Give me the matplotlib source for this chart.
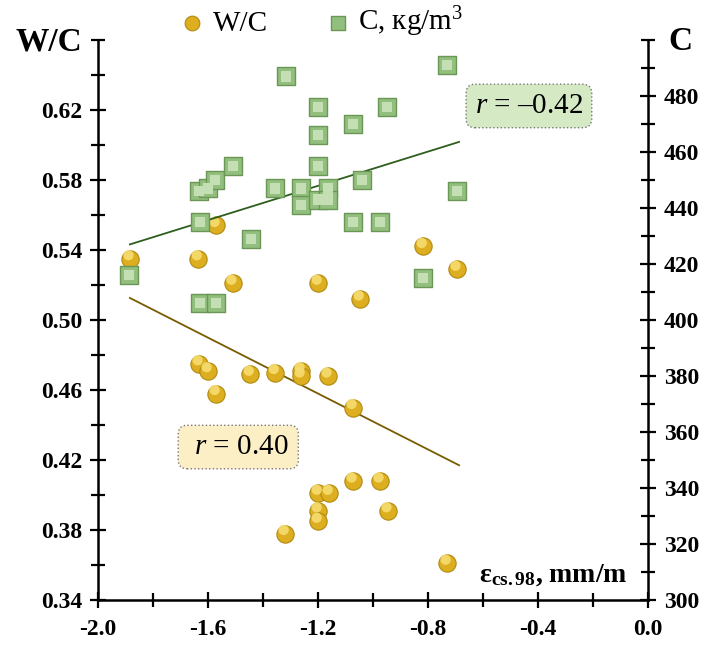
import matplotlib
matplotlib.use("Agg")
import matplotlib.pyplot as plt
from matplotlib.ticker import MultipleLocator, FormatStrFormatter
import numpy as np

plt.rcParams['font.family'] = ['Liberation Serif', 'DejaVu Serif']
plt.rcParams['mathtext.fontset'] = 'custom'
plt.rcParams['mathtext.rm'] = 'Liberation Serif'
plt.rcParams['mathtext.it'] = 'Liberation Serif:italic'
plt.rcParams['mathtext.bf'] = 'Liberation Serif:bold'

# W/C data (left axis)
wc_x = [-1.884, -1.636, -1.571, -1.510, -1.200, -1.047, -0.818, -0.695,
        -1.633, -1.600, -1.571, -1.447, -1.356, -1.262, -1.262, -1.164,
        -1.073, -1.200, -1.160, -1.200, -1.200, -1.320, -1.073, -0.975,
        -0.946, -0.731]
wc_y = [0.535, 0.535, 0.554, 0.521, 0.521, 0.512, 0.542, 0.529,
        0.475, 0.471, 0.458, 0.469, 0.470, 0.471, 0.468, 0.468,
        0.450, 0.401, 0.401, 0.391, 0.385, 0.378, 0.408, 0.408,
        0.391, 0.361]

# C data (right axis)
c_x = [-1.887, -1.629, -1.571, -1.629, -1.633, -1.600, -1.575, -1.510,
       -1.444, -1.316, -1.356, -1.262, -1.262, -1.200, -1.200, -1.200,
       -1.200, -1.164, -1.164, -1.073, -1.073, -1.040, -0.949, -0.731,
       -0.695, -0.975, -0.818]
c_y = [416, 406, 406, 435, 446, 447, 450, 455,
       429, 487, 447, 447, 441, 476, 466, 455,
       443, 447, 443, 470, 435, 450, 476, 491,
       446, 435, 415]

# trend lines (end points)
trend_x = [-1.884, -0.687]
trend_wc = [0.5126, 0.417]
trend_c = [427.0, 463.6]

x_ticks = [-2.0, -1.6, -1.2, -0.8, -0.4, 0.0]
wc_ticks = [0.34, 0.38, 0.42, 0.46, 0.50, 0.54, 0.58, 0.62]
c_ticks = [300, 320, 340, 360, 380, 400, 420, 440, 460, 480]

W, H = 712, 646
fig = plt.figure(figsize=(W/100, H/100), dpi=100)
L, R, B, T = 98, 648, 600, 40
ax = fig.add_axes([L/W, (H-B)/H, (R-L)/W, (B-T)/H])
ax2 = ax.twinx()

ax.set_xlim(-2.0, 0.0)
ax.set_ylim(0.34, 0.66)
ax2.set_ylim(300, 500)

for a in (ax, ax2):
    a.spines['top'].set_visible(False)
    for s in ('left', 'right', 'bottom'):
        a.spines[s].set_linewidth(1.8)
    a.patch.set_visible(False)

ax.spines['right'].set_visible(False)
ax2.spines['left'].set_visible(False)
ax2.spines['bottom'].set_visible(False)

ax.set_xticks(x_ticks)
ax.xaxis.set_minor_locator(MultipleLocator(0.2))
ax.xaxis.set_major_formatter(FormatStrFormatter('%.1f'))
ax.set_yticks(wc_ticks)
ax.yaxis.set_minor_locator(MultipleLocator(0.02))
ax.yaxis.set_major_formatter(FormatStrFormatter('%.2f'))
ax2.set_yticks(c_ticks)
ax2.yaxis.set_minor_locator(MultipleLocator(10))

for a in (ax, ax2):
    a.tick_params(which='both', direction='inout', width=1.6)
    a.tick_params(which='major', length=11, labelsize=17)
    a.tick_params(which='minor', length=10)
    for lab in a.get_xticklabels() + a.get_yticklabels():
        lab.set_fontweight('bold')
ax.tick_params(axis='x', pad=8)
ax.tick_params(axis='y', pad=6)
ax2.tick_params(axis='y', pad=6)

# trend lines
ax.plot(trend_x, trend_wc, color='#7A5C00', lw=1.3, zorder=2)
ax2.plot(trend_x, trend_c, color='#2E5E1E', lw=1.3, zorder=2)

# markers with simple shading
sq = ax2.scatter(c_x, c_y, marker='s', s=150, facecolor='#92BE7E',
                 edgecolor='#6A9656', linewidth=1.0, zorder=3)
ax2.scatter(c_x, c_y, marker='s', s=55, facecolor='#C4DFB4',
            edgecolor='none', zorder=4)
ci = ax.scatter(wc_x, wc_y, marker='o', s=155, facecolor='#DDAE20',
                edgecolor='#B08A12', linewidth=0.8, zorder=5)
ax.scatter(np.array(wc_x) - 0.005, np.array(wc_y) + 0.002, marker='o', s=55,
           facecolor='#F6DC70', edgecolor='none', zorder=6, alpha=0.9)

# axis titles
fig.text(16/W, 1 - 42/H, 'W/C', fontsize=24, fontweight='bold', va='center', ha='left')
fig.text(668/W, 1 - 42/H, 'C', fontsize=24, fontweight='bold', va='center', ha='left')
ax.text(0.962, 0.045, 'ε$_{\\mathbf{cs.98}}$, mm/m', transform=ax.transAxes,
        fontsize=20, fontweight='bold', ha='right', va='center')

# correlation boxes
ax.text(-0.433, 0.6223, '$r$ = –0.42', fontsize=21, ha='center', va='center', zorder=7,
        bbox=dict(boxstyle='round,pad=0.3,rounding_size=0.3', facecolor='#D5EAC4',
                  edgecolor='#777777', linestyle=':', linewidth=1.0))
ax.text(-1.49, 0.4274, ' $r$ = 0.40 ', fontsize=21, ha='center', va='center', zorder=7,
        bbox=dict(boxstyle='round,pad=0.3,rounding_size=0.3', facecolor='#FCEFC6',
                  edgecolor='#777777', linestyle=':', linewidth=1.0))

# legend
leg = fig.legend([ci, sq], ['W/C', 'C, кg/m$^3$'], loc='center',
                 bbox_to_anchor=(322/W, 1 - 22/H), ncol=2, frameon=False,
                 fontsize=21, handlelength=0.8, handletextpad=0.3,
                 columnspacing=2.0, markerscale=0.85, borderpad=0.0)

fig.savefig('out.png', dpi=100)
